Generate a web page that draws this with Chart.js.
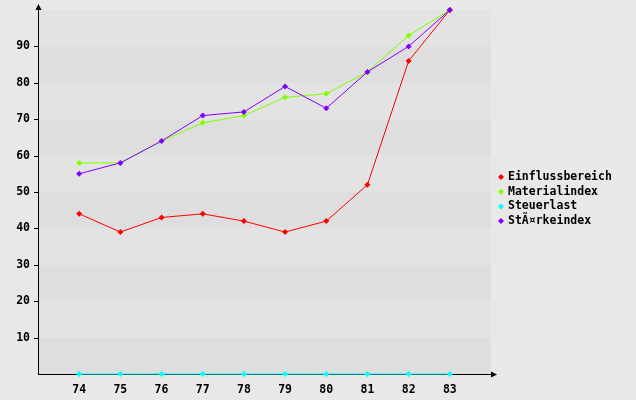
<!DOCTYPE html>
<html>
<head>
<meta charset="utf-8">
<script src="https://cdn.jsdelivr.net/npm/chart.js@4"></script>
<style>
  html, body { margin: 0; padding: 0; background: #e8e8e8; }
  #wrap { width: 636px; height: 400px; }
</style>
</head>
<body>
<div id="wrap"><canvas id="chart" width="636" height="400"></canvas></div>
<script>
// ====== Data ======
const years = [74, 75, 76, 77, 78, 79, 80, 81, 82, 83];
const einflussbereich = [44, 39, 43, 44, 42, 39, 42, 52, 86, 100];
const materialindex = [58, 58, 64, 69, 71, 76, 77, 83, 93, 100];
const steuerlast = [0, 0, 0, 0, 0, 0, 0, 0, 0, 0];
const staerkeindex = [55, 58, 64, 71, 72, 79, 73, 83, 90, 100];
const yTicks = [10, 20, 30, 40, 50, 60, 70, 80, 90];

const FONT = { family: "'DejaVu Sans Mono', monospace", size: 11.5, weight: "bold" };

function toXY(values) {
  return values.map((v, i) => ({ x: years[i], y: v }));
}

function series(label, values, color, order) {
  return {
    label: label,
    data: toXY(values),
    borderColor: color,
    backgroundColor: color,
    borderWidth: 1,
    pointStyle: "rectRot",
    pointRadius: 3,
    pointBorderWidth: 0,
    tension: 0,
    order: order
  };
}

// ====== Background bands + axis arrows ======
const bandsPlugin = {
  id: "bands",
  beforeDatasetsDraw(chart) {
    const { ctx, chartArea, scales } = chart;
    const y = scales.y;
    ctx.save();
    for (let v = 0; v < 100; v += 10) {
      const top = y.getPixelForValue(v + 10);
      const bottom = y.getPixelForValue(v);
      ctx.fillStyle = (v / 10) % 2 === 0 ? "#dedede" : "#e3e3e3";
      ctx.fillRect(chartArea.left, top, chartArea.right - chartArea.left, bottom - top);
    }
    // axes
    ctx.strokeStyle = "#000";
    ctx.lineWidth = 1;
    ctx.beginPath();
    ctx.moveTo(chartArea.left + 0.5, chartArea.bottom);
    ctx.lineTo(chartArea.left + 0.5, 5);
    ctx.moveTo(chartArea.left, chartArea.bottom + 0.5);
    ctx.lineTo(chartArea.right + 5, chartArea.bottom + 0.5);
    ctx.stroke();
    ctx.fillStyle = "#000";
    ctx.beginPath();
    ctx.moveTo(chartArea.left + 0.5, 4);
    ctx.lineTo(chartArea.left - 2.5, 10);
    ctx.lineTo(chartArea.left + 3.5, 10);
    ctx.fill();
    ctx.beginPath();
    ctx.moveTo(chartArea.right + 6, chartArea.bottom + 0.5);
    ctx.lineTo(chartArea.right, chartArea.bottom - 2.5);
    ctx.lineTo(chartArea.right, chartArea.bottom + 3.5);
    ctx.fill();
    // y tick marks
    yTicks.forEach(t => {
      const py = Math.round(y.getPixelForValue(t)) + 0.5;
      ctx.beginPath();
      ctx.moveTo(chartArea.left - 4, py);
      ctx.lineTo(chartArea.left, py);
      ctx.stroke();
    });
    ctx.restore();
  }
};

// ====== Legend ======
const legendPlugin = {
  id: "sideLegend",
  afterDraw(chart) {
    const { ctx } = chart;
    const items = [0, 1, 2, 3];
    ctx.save();
    ctx.font = `${FONT.weight} ${FONT.size}px ${FONT.family}`;
    ctx.textBaseline = "middle";
    items.forEach((idx, row) => {
      const ds = chart.data.datasets[idx];
      const cy = 177 + row * 14.7;
      ctx.fillStyle = ds.borderColor;
      ctx.beginPath();
      ctx.moveTo(501, cy - 3);
      ctx.lineTo(504, cy);
      ctx.lineTo(501, cy + 3);
      ctx.lineTo(498, cy);
      ctx.closePath();
      ctx.fill();
      ctx.fillStyle = "#000";
      ctx.fillText(ds.label, 508, cy);
    });
    ctx.restore();
  }
};

const ctx = document.getElementById("chart").getContext("2d");

new Chart(ctx, {
  type: "line",
  data: {
    datasets: [
      series("Einflussbereich", einflussbereich, "#ff0000", 2),
      series("Materialindex", materialindex, "#80ff00", 3),
      series("Steuerlast", steuerlast, "#00ffff", 4),
      series("StÃ¤rkeindex", staerkeindex, "#8000ff", 1)
    ]
  },
  options: {
    responsive: false,
    animation: false,
    clip: false,
    layout: { padding: { top: 10, right: 145, left: 0, bottom: 0 } },
    plugins: {
      legend: { display: false },
      tooltip: { enabled: false }
    },
    scales: {
      x: {
        type: "linear",
        min: 73,
        max: 84,
        afterFit(scale) { scale.height = 26; },
        afterBuildTicks(scale) { scale.ticks = years.map(v => ({ value: v })); },
        ticks: { color: "#000", font: FONT, padding: 1, maxRotation: 0, autoSkip: false },
        grid: { display: false },
        border: { display: false }
      },
      y: {
        min: 0,
        max: 100,
        afterFit(scale) { scale.width = 38; },
        afterBuildTicks(scale) { scale.ticks = yTicks.map(v => ({ value: v })); },
        ticks: { color: "#000", font: FONT, padding: 0 },
        grid: { display: false },
        border: { display: false }
      }
    }
  },
  plugins: [bandsPlugin, legendPlugin]
});
</script>
</body>
</html>
